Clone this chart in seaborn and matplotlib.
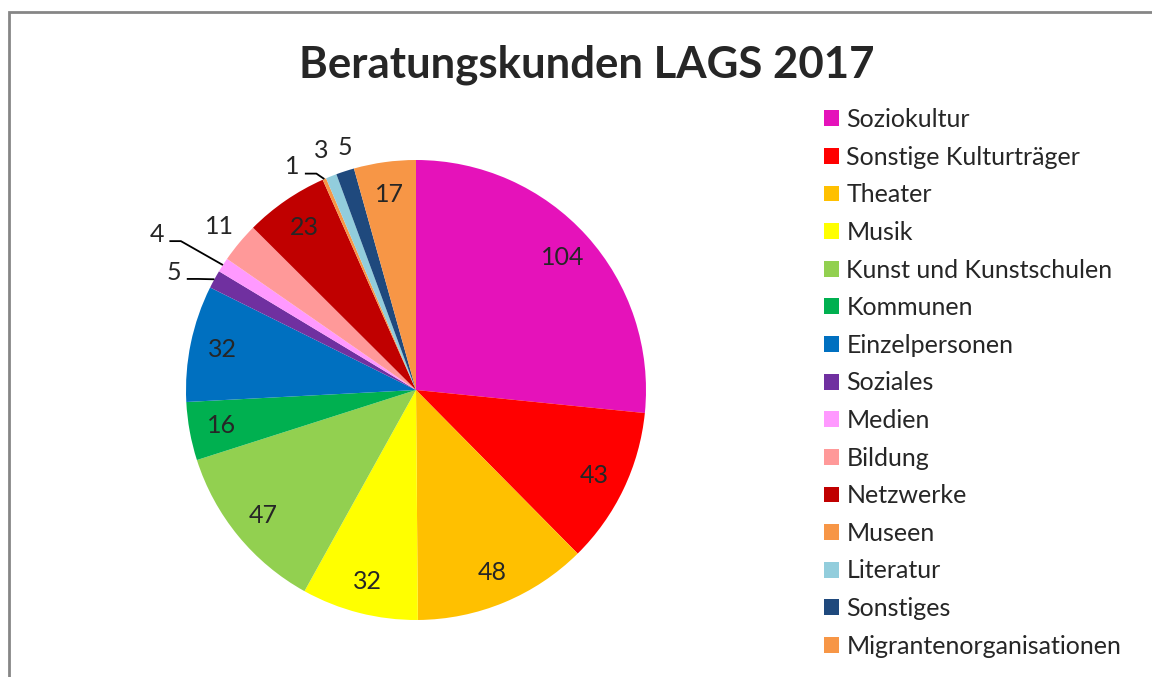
import numpy as np
import matplotlib
matplotlib.use("Agg")
import matplotlib.pyplot as plt
import matplotlib.patches as mpatches
import seaborn as sns

# data
categories = ["Soziokultur", "Sonstige Kulturträger", "Theater", "Musik",
              "Kunst und Kunstschulen", "Kommunen", "Einzelpersonen", "Soziales",
              "Medien", "Bildung", "Netzwerke", "Museen", "Literatur",
              "Sonstiges", "Migrantenorganisationen"]
values = [104, 43, 48, 32, 47, 16, 32, 5, 4, 11, 23, 1, 3, 5, 17]
colors = ["#E512BA", "#FF0000", "#FFC000", "#FFFF00", "#92D050", "#00B050",
          "#0070C0", "#7030A0", "#FF99FF", "#FF9999", "#C00000", "#F79646",
          "#92CDDC", "#1F497D", "#F79646"]

# small slices get their label outside: (angle from top, radius, leader line)
outside = {"Soziales": (296.0, 1.17, True),
           "Medien": (301.0, 1.315, True),
           "Bildung": (None, 1.11, False),
           "Museen": (331.0, 1.11, True),
           "Literatur": (None, 1.12, False),
           "Sonstiges": (343.7, 1.10, False)}

sns.set_theme(style="white")
plt.rcParams["font.family"] = ["Lato", "DejaVu Sans"]

W, H = 1152, 677
fig = plt.figure(figsize=(W / 100, H / 100), dpi=100)

# pie axes: centre at (416, 390) px, radius 230 px
R = 230
ax = fig.add_axes([(416 - 1.5 * R) / W, (H - 390 - 1.2 * R) / H, 3 * R / W, 2.4 * R / H])
palette = sns.color_palette(colors)
wedges, _ = ax.pie(values, colors=palette, startangle=90, counterclock=False,
                   wedgeprops=dict(linewidth=0))
ax.set_xlim(-1.5, 1.5)
ax.set_ylim(-1.2, 1.2)
ax.set_aspect("equal")
ax.axis("off")

total = sum(values)
cum = np.cumsum([0] + values)
for i, (cat, v) in enumerate(zip(categories, values)):
    mid = (cum[i] + v / 2) / total * 360.0
    ex, ey = np.sin(np.radians(mid)), np.cos(np.radians(mid))
    if cat in outside:
        ang, rad, leader = outside[cat]
        if ang is None:
            ang = mid
        tx, ty = rad * np.sin(np.radians(ang)), rad * np.cos(np.radians(ang))
        ax.text(tx, ty, str(v), ha="center", va="center", fontsize=18)
        if leader:
            yl = ty - 0.03
            x0 = tx + 0.055
            x1 = x0 + 0.05
            ax.plot([x0, x1, ex], [yl, yl, ey], color="black", lw=1.3,
                    solid_capstyle="butt")
    else:
        ax.text(0.86 * ex, 0.86 * ey, str(v), ha="center", va="center", fontsize=18)

fig.text(587 / W, 1 - 65 / H, "Beratungskunden LAGS 2017", ha="center",
         va="center", fontsize=31.5, fontweight="bold")

handles = [mpatches.Patch(facecolor=c, edgecolor="none") for c in colors]
fig.legend(handles, categories, loc="upper left",
           bbox_to_anchor=(824 / W, 1 - 108 / H), frameon=False, fontsize=18,
           handlelength=0.6, handleheight=0.6, handletextpad=0.3,
           labelspacing=0.585, borderpad=0, borderaxespad=0)

# chart frame (cut off at the right and bottom edge of the picture)
fig.patches.append(mpatches.Rectangle((8.5 / W, -0.1), 1.2, 1.1 - 11.5 / H,
                                      transform=fig.transFigure, fill=False,
                                      edgecolor="#868686", linewidth=2))

fig.savefig("out.png", dpi=100)
